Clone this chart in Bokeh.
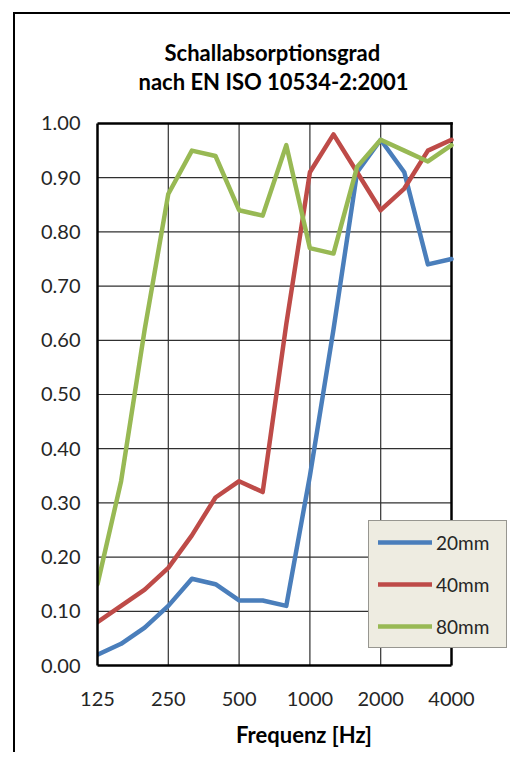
from bokeh.plotting import figure
from bokeh.models import (FixedTicker, Legend, LegendItem, Range1d, Title, InlineStyleSheet)
from bokeh.embed import file_html
from bokeh.resources import INLINE

freqs = ["125", "160", "200", "250", "315", "400", "500", "630", "800",
         "1000", "1250", "1600", "2000", "2500", "3150", "4000"]
mm20 = [0.02, 0.04, 0.07, 0.11, 0.16, 0.15, 0.12, 0.12, 0.11, 0.35, 0.62, 0.91, 0.97, 0.91, 0.74, 0.75]
mm40 = [0.08, 0.11, 0.14, 0.18, 0.24, 0.31, 0.34, 0.32, 0.63, 0.91, 0.98, 0.91, 0.84, 0.88, 0.95, 0.97]
mm80 = [0.15, 0.34, 0.62, 0.87, 0.95, 0.94, 0.84, 0.83, 0.96, 0.77, 0.76, 0.92, 0.97, 0.95, 0.93, 0.96]
series_names = ["20mm", "40mm", "80mm"]
y_ticks = [round(i * 0.1, 1) for i in range(11)]
title_lines = ["Schallabsorptionsgrad", "nach EN ISO 10534-2:2001"]

FONT = "Lato"
TXT = "#262626"

xs = list(range(len(freqs)))
x_last = len(freqs) - 1
y_top = 1.0

# the frame extends a little above 1.00 and to the right of 4000, so that the
# gap below the title and the legend box fit; the plot area itself is 0..15 x 0..1
p = figure(width=510, height=752, output_backend="svg", toolbar_location=None,
           x_range=Range1d(0, 17.5), y_range=Range1d(0, 1.0535),
           min_border_left=97, min_border_right=0, min_border_top=94, min_border_bottom=87)
bx = p.xaxis[0]
ly = p.yaxis[0]

# outer chart frame (left and top edges), drawn as the element background
p.stylesheets = [InlineStyleSheet(css=(
    ":host { background: linear-gradient(#000,#000) 13px 12px / 2px 100% no-repeat, "
    "linear-gradient(#000,#000) 13px 12px / 100% 2px no-repeat, #fff; }"))]

p.background_fill_color = "white"
p.border_fill_alpha = 0
p.outline_line_color = None

# two-line title, each line placed so that it is centred over the plot area
for text, off in ((title_lines[1], 41), (title_lines[0], 67)):
    t = Title(text=text, align="left", offset=off, standoff=0,
              text_font=FONT, text_font_size="22px", text_font_style="bold",
              text_color="black")
    p.add_layout(t, "above")

# axes
tick_idx = list(range(0, len(freqs), 3))
bx.ticker = FixedTicker(ticks=tick_idx)
bx.major_label_overrides = {i: freqs[i] for i in tick_idx}
bx.bounds = (0, x_last)
ly.ticker = FixedTicker(ticks=y_ticks)
ly.major_label_overrides = {v: f"{v:.2f}" for v in y_ticks}
ly.bounds = (0, y_top)

for ax in (bx, ly):
    ax.axis_line_color = "black"
    ax.axis_line_width = 2.5
    ax.major_tick_line_color = None
    ax.minor_tick_line_color = None
    ax.major_label_text_font = FONT
    ax.major_label_text_font_size = "20px"
    ax.major_label_text_color = TXT

ly.major_label_standoff = 11
bx.major_label_standoff = 20
bx.axis_label = "Frequenz [Hz]"
bx.axis_label_text_font = FONT
bx.axis_label_text_font_size = "22px"
bx.axis_label_text_font_style = "bold"
bx.axis_label_text_color = "black"
bx.axis_label_standoff = 12

p.xgrid.grid_line_color = None
p.ygrid.grid_line_color = None

# grid lines limited to the plot area
inner_y = [v for v in y_ticks if 0 < v < y_top]
p.segment(x0=[0] * len(inner_y), y0=inner_y, x1=[x_last] * len(inner_y), y1=inner_y,
          line_color="#303030", line_width=1.2)
inner_x = [i for i in tick_idx if 0 < i < x_last]
p.segment(x0=inner_x, y0=[0] * len(inner_x), x1=inner_x, y1=[y_top] * len(inner_x),
          line_color="#303030", line_width=1.2)
# top and right edges of the plot area
p.segment(x0=[0, x_last], y0=[y_top, 0], x1=[x_last, x_last], y1=[y_top, y_top],
          line_color="black", line_width=2.5, line_cap="square")

colors = ["#4A7EBB", "#BE4B48", "#98B954"]
renderers = []
for vals, c in zip([mm20, mm40, mm80], colors):
    r = p.line(xs, vals, line_color=c, line_width=4.5, line_join="round", line_cap="round")
    renderers.append(r)

legend = Legend(items=[LegendItem(label=n, renderers=[r]) for n, r in zip(series_names, renderers)],
                location=(271, 17))
legend.background_fill_color = "#EEECE1"
legend.background_fill_alpha = 1
legend.border_line_color = "#404040"
legend.border_line_width = 1.5
legend.label_text_font = FONT
legend.label_text_font_size = "19px"
legend.label_text_color = TXT
legend.glyph_width = 54
legend.glyph_height = 24
legend.label_height = 24
legend.label_width = 61
legend.label_standoff = 4
legend.spacing = 18
legend.padding = 9
legend.margin = 0
p.add_layout(legend, "center")

open("out.html", "w").write(file_html(p, INLINE))
